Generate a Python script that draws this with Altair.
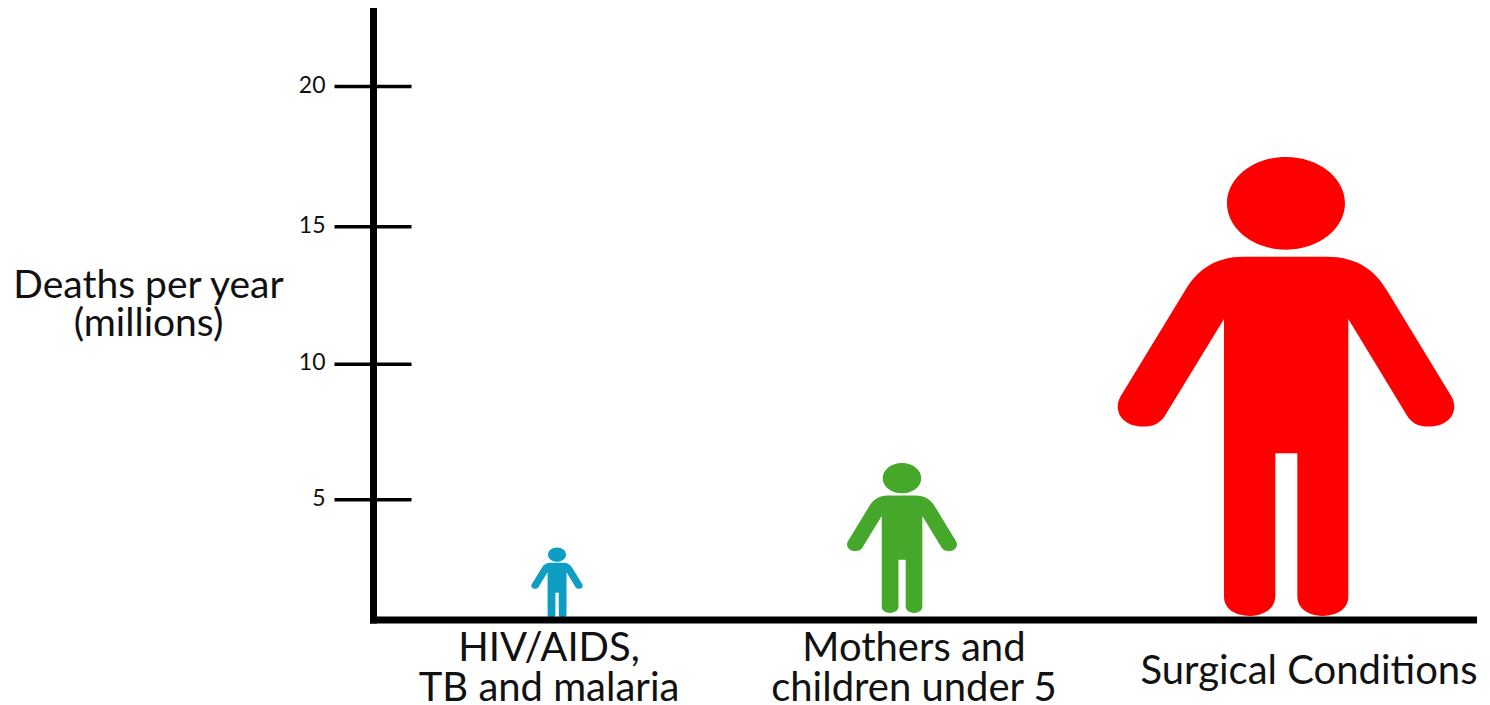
import altair as alt
import pandas as pd

categories = ["HIV/AIDS,\nTB and malaria", "Mothers and\nchildren under 5", "Surgical Conditions"]
figure_top = [3.26, 6.33, 17.44]
figure_base = [0.72, 0.89, 0.78]
figure_slot = [0.1673, 0.4809, 0.83]
label_slot = [0.16, 0.4918, 0.8509]
colors = ["#0E9DC3", "#45A82A", "#FF0000"]
tick_values = [5, 10, 15, 20]

Y_DOMAIN = [0.65, 22.85]
PLOT_W, PLOT_H = 1100, 611.5
PX_PER_UNIT = PLOT_H / (Y_DOMAIN[1] - Y_DOMAIN[0])
FONT = "Lato"
INK = "#111111"


def person_path():
    def p(x, y):
        return f"{(x - 558) / 688.5:.4f},{(y - 439.5) / 688.5:.4f}"

    def c(a, b, d):
        return "C" + p(*a) + " " + p(*b) + " " + p(*d)

    def l(x, y):
        return "L" + p(x, y)

    k = 0.5523
    hx, hy, rx, ry = 558, -110, 177, 139
    head = (
        "M" + p(hx - rx, hy)
        + c((hx - rx, hy - k * ry), (hx - k * rx, hy - ry), (hx, hy - ry))
        + c((hx + k * rx, hy - ry), (hx + rx, hy - k * ry), (hx + rx, hy))
        + c((hx + rx, hy + k * ry), (hx + k * rx, hy + ry), (hx, hy + ry))
        + c((hx - k * rx, hy + ry), (hx - rx, hy + k * ry), (hx - rx, hy))
        + "Z"
    )
    body = (
        "M" + p(430, 50) + l(680, 50)
        + c((770, 50), (825, 90), (860, 150))
        + l(1055, 470)
        + c((1078, 512), (1050, 560), (988, 560))
        + c((955, 560), (935, 550), (920, 525))
        + l(745, 237) + l(745, 1070)
        + c((745, 1108), (710, 1128), (668, 1128))
        + c((625, 1128), (592, 1105), (592, 1070))
        + l(592, 640) + l(526, 640) + l(526, 1070)
        + c((526, 1105), (492, 1128), (450, 1128))
        + c((406, 1128), (372, 1108), (372, 1070))
        + l(372, 237) + l(196, 525)
        + c((181, 550), (161, 560), (128, 560))
        + c((66, 560), (38, 512), (61, 470))
        + l(256, 150)
        + c((291, 90), (346, 50), (430, 50))
        + "Z"
    )
    return head + body


df = pd.DataFrame(
    {
        "category": categories,
        "top": figure_top,
        "base": figure_base,
        "figure_slot": figure_slot,
        "label_slot": label_slot,
    }
)
df_ticks = pd.DataFrame({"tick": tick_values})

slot_scale = alt.Scale(domain=[0, 1], nice=False, zero=False)
y_scale = alt.Scale(domain=Y_DOMAIN, nice=False, zero=False)
# the reference's ruled ticks are not perfectly evenly spaced
tick_scale = alt.Scale(
    domain=[Y_DOMAIN[0], 5, 10, 15, 20, Y_DOMAIN[1]],
    range=[PLOT_H, 491.7, 356.3, 218.7, 78.5, 0],
    nice=False,
    zero=False,
)

figures = (
    alt.Chart(df)
    .transform_calculate(
        mid="(datum.top + datum.base) / 2",
        area=f"pow((datum.top - datum.base) * {PX_PER_UNIT}, 2)",
    )
    .mark_point(filled=True, opacity=1, shape=person_path(), strokeWidth=0)
    .encode(
        x=alt.X(
            "figure_slot:Q",
            scale=slot_scale,
            axis=alt.Axis(
                title=None, labels=False, ticks=False, grid=False, domain=True,
                domainColor="#000000", domainWidth=7, domainCap="square", zindex=2,
            ),
        ),
        y=alt.Y("mid:Q", scale=y_scale, axis=None),
        size=alt.Size("area:Q", scale=None, legend=None),
        color=alt.Color("category:N", scale=alt.Scale(domain=categories, range=colors), legend=None),
    )
)

ticks = (
    alt.Chart(df_ticks)
    .mark_tick(color="#000000", size=77, thickness=3.5, opacity=1)
    .encode(
        y=alt.Y(
            "tick:Q",
            scale=tick_scale,
            axis=alt.Axis(
                values=tick_values,
                title=["Deaths per year", "(millions)"],
                titleAngle=0, titleX=-225, titleY=277, titleAlign="center",
                titleBaseline="middle", titleFont=FONT, titleFontSize=39,
                titleFontWeight="normal", titleColor=INK, titleLineHeight=38,
                labelFont=FONT, labelFontSize=23, labelColor=INK, labelPadding=48,
                labelOffset=-1.5, ticks=False, grid=False, domain=True,
                domainColor="#000000", domainWidth=7, domainCap="square", zindex=2,
            ),
        ),
        x=alt.value(0),
    )
)

label_style = dict(font=FONT, fontSize=40, color=INK, lineBreak="\n", lineHeight=40,
                   baseline="middle", align="center")

two_line_labels = (
    alt.Chart(df)
    .transform_filter("indexof(datum.category, '\\n') >= 0")
    .mark_text(**label_style)
    .encode(
        x=alt.X("label_slot:Q", scale=slot_scale, axis=None),
        y=alt.value(641),
        text="category:N",
    )
)

one_line_labels = (
    alt.Chart(df)
    .transform_filter("indexof(datum.category, '\\n') < 0")
    .mark_text(**label_style)
    .encode(
        x=alt.X("label_slot:Q", scale=slot_scale, axis=None),
        y=alt.value(664),
        text="category:N",
    )
)

chart = (
    alt.layer(figures, ticks, two_line_labels, one_line_labels)
    .resolve_scale(x="independent", y="independent")
    .properties(
        width=PLOT_W,
        height=PLOT_H,
        padding={"left": 365, "top": 0, "right": 9, "bottom": 85.5},
        autosize=alt.AutoSizeParams(type="none"),
        background="#FFFFFF",
    )
    .configure_view(stroke=None)
)

chart.save("out.html", embed_options={"renderer": "svg", "actions": False})
